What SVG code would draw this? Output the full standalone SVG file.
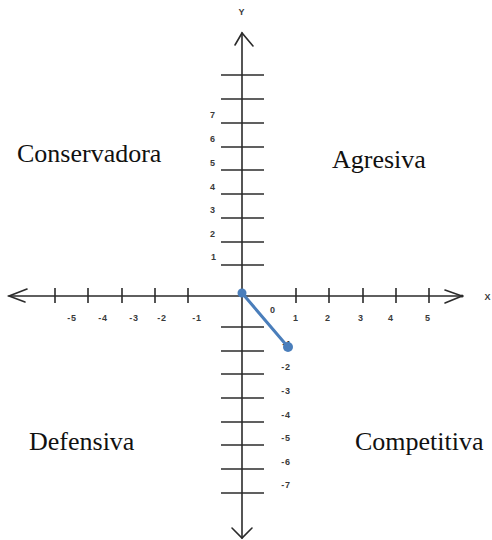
<svg xmlns="http://www.w3.org/2000/svg" width="492" height="540" viewBox="0 0 492 540">
<style>
.ax{stroke:#2b2b2b;stroke-width:1.6;fill:none;stroke-linecap:round}
.tk{stroke:#2b2b2b;stroke-width:1.6}
.lb{font-family:"Liberation Sans",Arial,sans-serif;font-size:9px;font-weight:bold;fill:#3a3a3a;text-anchor:middle;letter-spacing:0.8px}
.q{font-family:"Liberation Serif","Times New Roman",serif;font-size:26px;fill:#111}
.bl{stroke:#4a7ebb;stroke-width:3;stroke-linecap:round}
</style>
<rect width="492" height="540" fill="#fff"/>
<g id="axes">
<line class="ax" x1="242" y1="33" x2="242" y2="538"/>
<line class="ax" x1="9" y1="296" x2="462" y2="296"/>
<polyline class="ax" points="235,45 242,33 253,46"/>
<polyline class="ax" points="232,528 242,538 252,528"/>
<polyline class="ax" points="27,289 9,296 25,302"/>
<polyline class="ax" points="445,290 462,296 445,303"/>
<circle cx="462" cy="296" r="1.5" fill="#2b2b2b"/>
</g>
<g id="yticks" class="tk">
<line x1="221" y1="75" x2="264" y2="75"/>
<line x1="221" y1="99" x2="264" y2="99"/>
<line x1="221" y1="123" x2="264" y2="123"/>
<line x1="221" y1="147" x2="264" y2="147"/>
<line x1="221" y1="170" x2="264" y2="170"/>
<line x1="221" y1="194" x2="264" y2="194"/>
<line x1="221" y1="218" x2="264" y2="218"/>
<line x1="221" y1="242" x2="264" y2="242"/>
<line x1="221" y1="265" x2="264" y2="265"/>
<line x1="221" y1="327" x2="264" y2="327"/>
<line x1="221" y1="351" x2="264" y2="351"/>
<line x1="221" y1="374" x2="264" y2="374"/>
<line x1="221" y1="398" x2="264" y2="398"/>
<line x1="221" y1="422" x2="264" y2="422"/>
<line x1="221" y1="445" x2="264" y2="445"/>
<line x1="221" y1="469" x2="264" y2="469"/>
<line x1="221" y1="493" x2="264" y2="493"/>
</g>
<g id="xticks" class="tk">
<line x1="55" y1="288" x2="55" y2="303"/>
<line x1="88" y1="288" x2="88" y2="303"/>
<line x1="122" y1="288" x2="122" y2="303"/>
<line x1="155" y1="288" x2="155" y2="303"/>
<line x1="188" y1="288" x2="188" y2="303"/>
<line x1="296" y1="288" x2="296" y2="303"/>
<line x1="329" y1="288" x2="329" y2="303"/>
<line x1="363" y1="288" x2="363" y2="303"/>
<line x1="396" y1="288" x2="396" y2="303"/>
<line x1="429" y1="288" x2="429" y2="303"/>
</g>
<g id="labels">
<text class="lb" x="242" y="15">Y</text>
<text class="lb" x="488" y="300">X</text>
<text class="lb" x="213" y="118">7</text>
<text class="lb" x="213" y="142">6</text>
<text class="lb" x="213" y="166">5</text>
<text class="lb" x="213" y="190">4</text>
<text class="lb" x="213" y="213">3</text>
<text class="lb" x="213" y="237">2</text>
<text class="lb" x="214" y="260">1</text>
<text class="lb" x="287" y="347">-1</text>
<text class="lb" x="286" y="370">-2</text>
<text class="lb" x="286" y="394">-3</text>
<text class="lb" x="286" y="418">-4</text>
<text class="lb" x="286" y="441">-5</text>
<text class="lb" x="286" y="465">-6</text>
<text class="lb" x="286" y="488">-7</text>
<text class="lb" x="72" y="321">-5</text>
<text class="lb" x="103" y="321">-4</text>
<text class="lb" x="134" y="321">-3</text>
<text class="lb" x="162" y="321">-2</text>
<text class="lb" x="197" y="321">-1</text>
<text class="lb" x="273" y="313">0</text>
<text class="lb" x="296" y="321">1</text>
<text class="lb" x="328" y="321">2</text>
<text class="lb" x="361" y="321">3</text>
<text class="lb" x="391" y="321">4</text>
<text class="lb" x="428" y="321">5</text>
</g>
<g id="vector">
<line class="bl" x1="242" y1="293" x2="288" y2="347"/>
<circle cx="242" cy="293" r="4.5" fill="#4a7ebb"/>
<circle cx="288" cy="347" r="5" fill="#4a7ebb"/>
</g>
<g id="quadrants">
<text class="q" x="17" y="162">Conservadora</text>
<text class="q" x="332" y="168">Agresiva</text>
<text class="q" x="29" y="450">Defensiva</text>
<text class="q" x="355" y="450">Competitiva</text>
</g>
</svg>
